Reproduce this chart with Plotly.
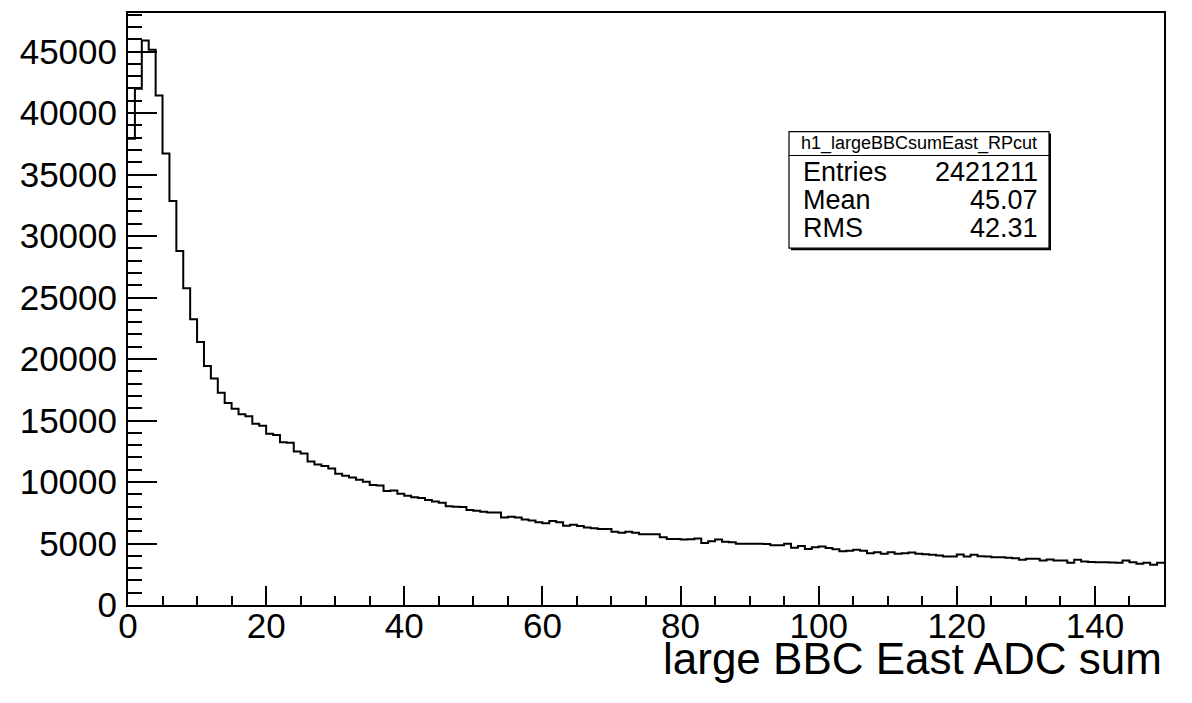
import plotly.graph_objects as go

# ---- data: 150 bins of width 1, from 0 to 150 ----
bin_edges = list(range(0, 151))
counts = [
    37900, 41970, 45890, 45150, 41430, 36700, 32840, 28790, 25760, 23230,
    21390, 19440, 18420, 17250, 16420, 15960, 15500, 15340, 14740, 14580,
    13930, 13820, 13230, 13200, 12470, 12310, 11660, 11420, 11310, 11100,
    10670, 10500, 10370, 10180, 10020, 9750, 9720, 9260, 9310, 9050,
    8880, 8750, 8690, 8530, 8420, 8310, 8020, 7990, 7960, 7720,
    7670, 7590, 7530, 7530, 7120, 7180, 7120, 6960, 6860, 6720,
    6640, 6830, 6720, 6450, 6530, 6420, 6310, 6230, 6180, 6180,
    5960, 5880, 5960, 5880, 5750, 5750, 5750, 5500, 5370, 5370,
    5320, 5340, 5400, 5050, 5180, 5320, 5150, 5100, 4970, 4970,
    4970, 4970, 4950, 4850, 4850, 4980, 4650, 4790, 4560, 4690,
    4750, 4640, 4530, 4370, 4420, 4500, 4420, 4210, 4290, 4160,
    4290, 4160, 4210, 4260, 4160, 4130, 4080, 4020, 3940, 3940,
    4100, 3940, 4080, 3960, 3940, 3880, 3880, 3850, 3800, 3680,
    3750, 3750, 3610, 3700, 3610, 3610, 3430, 3670, 3530, 3500,
    3480, 3480, 3460, 3440, 3610, 3480, 3350, 3430, 3270, 3430,
]
x_ticks = [0, 20, 40, 60, 80, 100, 120, 140]
x_tick_labels = ["0", "20", "40", "60", "80", "100", "120", "140"]
y_ticks = [0, 5000, 10000, 15000, 20000, 25000, 30000, 35000, 40000, 45000]
y_tick_labels = ["0", "5000", "10000", "15000", "20000", "25000", "30000", "35000", "40000", "45000"]

hist_name = "h1_largeBBCsumEast_RPcut"
stat_labels = ["Entries", "Mean", "RMS"]
stat_values = ["2421211", "45.07", "42.31"]
x_title = "large BBC East ADC sum"

FONT = "Liberation Sans, Arial, Helvetica, sans-serif"

W, H = 1192, 703
L, R, T, B = 128, 28, 11, 98
plot_w = W - L - R
plot_h = H - T - B


def px2x(px):
    return (px - L) / plot_w


def px2y(py):
    return (H - B - py) / plot_h


fig = go.Figure()
fig.add_trace(go.Scatter(
    x=bin_edges,
    y=counts + [counts[-1]],
    mode="lines",
    line=dict(shape="hv", color="black", width=2),
    hoverinfo="skip",
    showlegend=False,
))

fig.update_xaxes(
    range=[0, 150],
    tickvals=x_ticks, ticktext=x_tick_labels,
    ticks="inside", ticklen=19, tickwidth=1.5, tickcolor="black",
    minor=dict(ticks="inside", ticklen=9, dtick=5, tick0=0, tickwidth=1.5, tickcolor="black", showgrid=False),
    showline=True, linecolor="black", linewidth=2, mirror=True,
    showgrid=False, zeroline=False,
    tickfont=dict(family=FONT, size=35, color="black"),
    ticklabelstandoff=-11,
)
fig.update_yaxes(
    range=[0, 48130],
    tickvals=y_ticks, ticktext=y_tick_labels,
    ticks="inside", ticklen=29, tickwidth=1.5, tickcolor="black",
    minor=dict(ticks="inside", ticklen=14, dtick=1000, tick0=0, tickwidth=1.5, tickcolor="black", showgrid=False),
    showline=True, linecolor="black", linewidth=2, mirror=True,
    showgrid=False, zeroline=False,
    tickfont=dict(family=FONT, size=35, color="black"),
    ticklabelstandoff=2,
)

# stats box
bx0, bx1, by0, by1 = 789, 1049, 130, 247
sep_y = 154
shapes = [
    dict(type="rect", xref="paper", yref="paper",
         x0=px2x(bx0 + 2), x1=px2x(bx1 + 2), y0=px2y(by1 + 2), y1=px2y(by0 + 2),
         fillcolor="black", line=dict(width=0)),
    dict(type="rect", xref="paper", yref="paper",
         x0=px2x(bx0), x1=px2x(bx1), y0=px2y(by1), y1=px2y(by0),
         fillcolor="white", line=dict(color="black", width=1.2)),
    dict(type="line", xref="paper", yref="paper",
         x0=px2x(bx0), x1=px2x(bx1), y0=px2y(sep_y), y1=px2y(sep_y),
         line=dict(color="black", width=1.2)),
]
annotations = [
    dict(text=hist_name, xref="paper", yref="paper",
         x=px2x((bx0 + bx1) / 2), y=px2y(142), xanchor="center", yanchor="middle",
         showarrow=False, font=dict(family=FONT, size=18, color="black")),
]
row_y = [171, 199, 227]
for lab, val, ry in zip(stat_labels, stat_values, row_y):
    annotations.append(dict(text=lab, xref="paper", yref="paper",
                            x=px2x(801), y=px2y(ry), xanchor="left", yanchor="middle",
                            showarrow=False, font=dict(family=FONT, size=27, color="black")))
    annotations.append(dict(text=val, xref="paper", yref="paper",
                            x=px2x(1040), y=px2y(ry), xanchor="right", yanchor="middle",
                            showarrow=False, font=dict(family=FONT, size=27, color="black")))

annotations.append(dict(text=x_title, xref="paper", yref="paper",
                        x=1.0, y=px2y(659), xanchor="right", yanchor="middle",
                        showarrow=False, font=dict(family=FONT, size=44, color="black")))

fig.update_layout(
    width=W, height=H,
    margin=dict(l=L, r=R, t=T, b=B),
    paper_bgcolor="white", plot_bgcolor="white",
    shapes=shapes, annotations=annotations,
    showlegend=False,
)

fig.write_html("out.html")
